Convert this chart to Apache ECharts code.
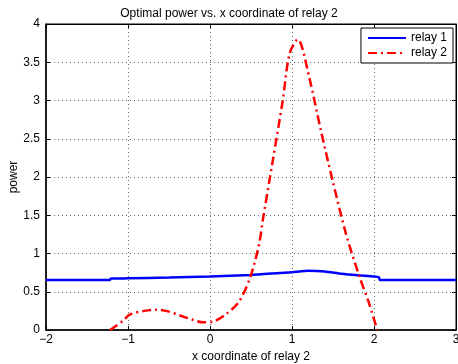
<!DOCTYPE html>
<html>
<head>
<meta charset="utf-8">
<script src="https://cdn.jsdelivr.net/npm/echarts@6/dist/echarts.min.js"></script>
<style>
  html, body { margin: 0; padding: 0; background: #fff; }
  #chart { width: 458px; height: 364px; }
</style>
</head>
<body>
<div id="chart"></div>
<script>
const relay1X = [-2, -1.5, -1.22, -1.21, -1, -0.5, 0, 0.5, 0.85, 1.0, 1.2, 1.4, 1.6, 1.8, 2.0, 2.06, 2.07, 2.5, 3];
const relay1Y = [0.655, 0.655, 0.655, 0.672, 0.675, 0.685, 0.70, 0.72, 0.745, 0.755, 0.775, 0.765, 0.735, 0.715, 0.70, 0.69, 0.655, 0.655, 0.655];

const relay2X = [-1.22, -1.06, -0.98, -0.8, -0.65, -0.5, -0.365, -0.2, -0.08, 0.04, 0.2, 0.36, 0.5, 0.6, 0.643, 0.765, 0.887, 0.97, 1.07, 1.21, 1.354, 1.496, 1.66, 1.825, 1.93, 2.04];
const relay2Y = [0, 0.12, 0.2, 0.25, 0.265, 0.24, 0.19, 0.13, 0.1, 0.11, 0.21, 0.38, 0.72, 1.13, 1.43, 2.21, 3.0, 3.61, 3.80, 3.30, 2.60, 1.95, 1.25, 0.69, 0.38, 0.0];

const pairs = (xs, ys) => xs.map((x, i) => [x, ys[i]]);
const minus = v => String(v).replace('-', '\u2212');
const font = 'Liberation Sans, Arial, sans-serif';

const chart = echarts.init(document.getElementById('chart'));
const dotted = { show: true, lineStyle: { color: '#666', type: [1, 3], width: 1 } };
const ticks = { show: true, inside: true, length: 4, lineStyle: { color: '#000' } };

chart.setOption({
  animation: false,
  textStyle: { fontFamily: font },
  title: {
    text: 'Optimal power vs. x coordinate of relay 2',
    left: 'center', top: 3,
    textStyle: { fontSize: 12, fontWeight: 'normal', color: '#000', fontFamily: font }
  },
  grid: {
    left: 46, right: 2, top: 24, bottom: 34, outerBoundsMode: 'none',
    show: true, borderColor: '#000', borderWidth: 1
  },
  legend: {
    orient: 'vertical', right: 5, top: 28,
    backgroundColor: '#fff', borderColor: '#000', borderWidth: 1, borderRadius: 0,
    padding: [4, 6, 4, 6], itemGap: 3, itemWidth: 38, itemHeight: 12,
    itemStyle: { opacity: 0 },
    textStyle: { fontSize: 12, color: '#000' },
    data: ['relay 1', 'relay 2']
  },
  xAxis: [{
    type: 'value', min: -2, max: 3, interval: 1,
    name: 'x coordinate of relay 2', nameLocation: 'middle', nameGap: 21,
    nameTextStyle: { fontSize: 12, color: '#000' },
    axisLine: { onZero: false, lineStyle: { color: '#000', width: 1.5 } },
    axisTick: ticks,
    axisLabel: { color: '#000', fontSize: 12, margin: 4, formatter: minus },
    splitLine: dotted
  }, {
    type: 'value', position: 'top', min: -2, max: 3, interval: 1,
    axisLine: { show: true, onZero: false, lineStyle: { color: '#000' } },
    axisTick: ticks,
    axisLabel: { show: false }, splitLine: { show: false }
  }],
  yAxis: [{
    type: 'value', min: 0, max: 4, interval: 0.5,
    name: 'power', nameLocation: 'middle', nameGap: 26, nameMoveOverlap: false,
    nameTextStyle: { fontSize: 12, color: '#000' },
    axisLine: { show: true, onZero: false, lineStyle: { color: '#000', width: 1.5 } },
    axisTick: ticks,
    axisLabel: { color: '#000', fontSize: 12, margin: 6 },
    splitLine: dotted
  }, {
    type: 'value', position: 'right', min: 0, max: 4, interval: 0.5,
    axisLine: { show: true, onZero: false, lineStyle: { color: '#000' } },
    axisTick: ticks,
    axisLabel: { show: false }, splitLine: { show: false }
  }],
  series: [{
    name: 'relay 1', type: 'line', symbol: 'none', smooth: 0.2,
    color: '#0000ff',
    lineStyle: { color: '#0000ff', width: 2.5 },
    data: pairs(relay1X, relay1Y)
  }, {
    name: 'relay 2', type: 'line', symbol: 'none', smooth: 0.3,
    color: '#ff0000',
    lineStyle: { color: '#ff0000', width: 2.5, type: [9, 4, 2, 4] },
    data: pairs(relay2X, relay2Y)
  }]
});
</script>
</body>
</html>
